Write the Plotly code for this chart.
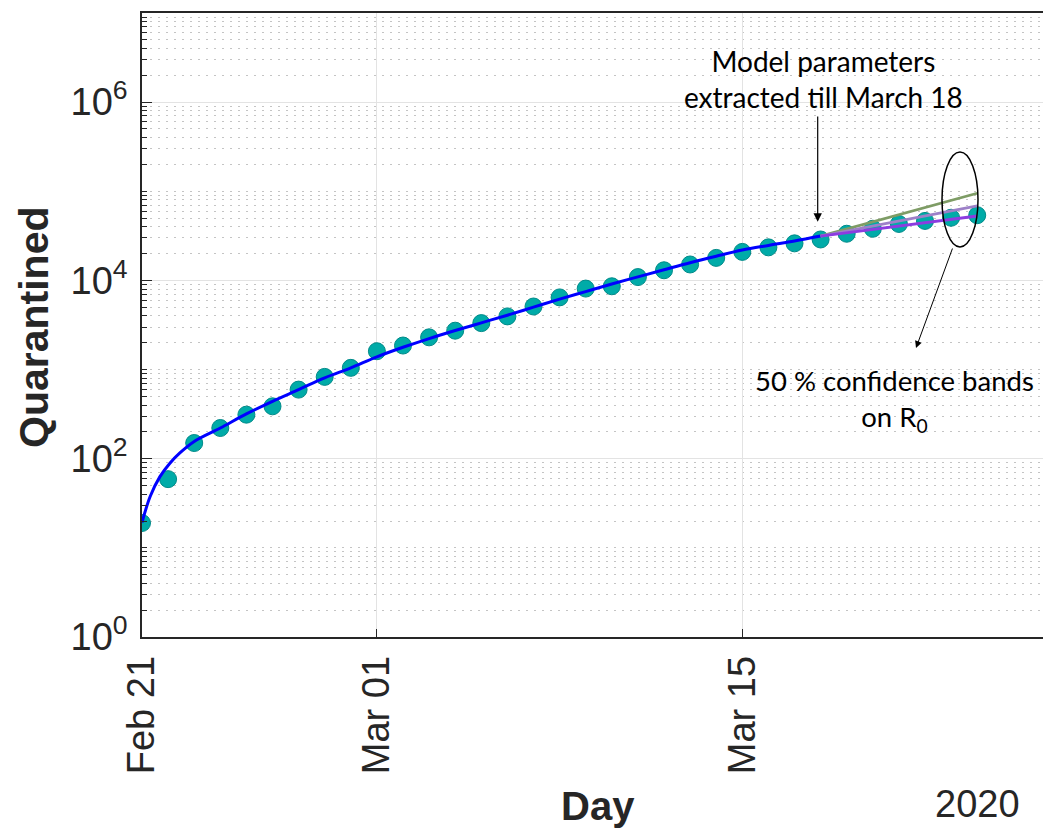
import plotly.graph_objects as go

# ---------------- data ----------------
obs_dates = ["2020-02-21", "2020-02-22", "2020-02-23", "2020-02-24", "2020-02-25",
             "2020-02-26", "2020-02-27", "2020-02-28", "2020-02-29", "2020-03-01",
             "2020-03-02", "2020-03-03", "2020-03-04", "2020-03-05", "2020-03-06",
             "2020-03-07", "2020-03-08", "2020-03-09", "2020-03-10", "2020-03-11",
             "2020-03-12", "2020-03-13", "2020-03-14", "2020-03-15", "2020-03-16",
             "2020-03-17", "2020-03-18", "2020-03-19", "2020-03-20", "2020-03-21",
             "2020-03-22", "2020-03-23", "2020-03-24"]
obs_values = [19, 59, 150, 221, 312, 387, 596, 828, 1045, 1606,
              1861, 2300, 2730, 3320, 3950, 5100, 6450, 8100, 8600, 10900,
              13000, 15100, 17900, 20900, 23500, 26060, 28800, 33400, 38000,
              43000, 46500, 50500, 53900]

fit_dates = ["2020-02-21 00:00", "2020-02-21 07:30", "2020-02-21 16:30", "2020-02-22 01:40",
             "2020-02-22 10:50", "2020-02-23", "2020-02-24", "2020-02-25", "2020-02-26",
             "2020-02-27", "2020-02-28", "2020-02-29", "2020-03-01", "2020-03-02",
             "2020-03-03", "2020-03-04", "2020-03-05", "2020-03-06", "2020-03-07",
             "2020-03-08", "2020-03-09", "2020-03-10", "2020-03-11", "2020-03-12",
             "2020-03-13", "2020-03-14", "2020-03-15", "2020-03-16", "2020-03-17",
             "2020-03-18"]
fit_values = [19.2, 37.7, 63, 89, 116, 156, 221, 318, 441, 596, 807, 1045, 1390, 1778,
              2228, 2742, 3342, 4074, 5012, 6166, 7499, 9120, 10965, 13183, 15812,
              18707, 21928, 24717, 27669, 31477]

band_dates = ["2020-03-18", "2020-03-24"]
band_high = [31477, 95000]
band_mid = [31477, 68400]
band_low = [31477, 52800]

x_tick_vals = ["2020-02-21", "2020-03-01", "2020-03-15"]
x_tick_text = ["Feb 21", "Mar 01", "Mar 15"]
y_tick_vals = [1, 100, 10000, 1000000]
y_tick_text = ["10<sup>0</sup>", "10<sup>2</sup>", "10<sup>4</sup>", "10<sup>6</sup>"]
y_minor_vals = [m * 10 ** k for k in range(0, 7) for m in range(2, 10)] + [10, 1000, 100000, 10000000]

# ---------------- figure ----------------
W, H = 1043, 832
L, R, T, B = 142, 0, 13, 195
PW, PH = W - L - R, H - T - B

def px(x):
    return (x - L) / PW

def py(y):
    return (H - B - y) / PH

tick_font = dict(family="Liberation Sans, Arial, sans-serif", size=38, color="#262626")
note_font = dict(family="Lato, Carlito, sans-serif", size=28, color="#000000")

fig = go.Figure()

fig.add_trace(go.Scatter(
    x=obs_dates, y=obs_values, mode="markers",
    marker=dict(size=17, color="#00ABA8", line=dict(color="#008a88", width=1)),
    showlegend=False))

fig.add_trace(go.Scatter(
    x=fit_dates, y=fit_values, mode="lines",
    line=dict(color="#0000FF", width=3, shape="spline"), showlegend=False))

fig.add_trace(go.Scatter(x=band_dates, y=band_high, mode="lines",
                         line=dict(color="#7e9c65", width=2.8), showlegend=False))
fig.add_trace(go.Scatter(x=band_dates, y=band_mid, mode="lines",
                         line=dict(color="#9d80c8", width=2.8), showlegend=False))
fig.add_trace(go.Scatter(x=band_dates, y=band_low, mode="lines",
                         line=dict(color="#8c3ce0", width=2.8), showlegend=False))

fig.update_layout(
    width=W, height=H,
    margin=dict(l=L, r=R, t=T, b=B),
    paper_bgcolor="white", plot_bgcolor="white",
    showlegend=False,
)

fig.update_xaxes(
    type="date", range=["2020-02-21", "2020-03-26 12:30"],
    tickmode="array", tickvals=x_tick_vals, ticktext=x_tick_text,
    tickangle=-90, tickfont=tick_font,
    ticks="inside", ticklen=8, tickcolor="#262626",
    showgrid=True, gridcolor="#e3e3e3", gridwidth=1,
    showline=True, linecolor="#262626", linewidth=1.5, mirror=True,
    zeroline=False, ticklabelstandoff=2,
)

fig.update_yaxes(
    type="log", range=[0, 7],
    tickmode="array", tickvals=y_tick_vals, ticktext=y_tick_text,
    tickfont=tick_font,
    ticks="inside", ticklen=10, tickcolor="#262626",
    showgrid=True, gridcolor="#e3e3e3", gridwidth=1,
    showline=True, linecolor="#262626", linewidth=1.5, mirror=False,
    zeroline=False, ticklabelstandoff=5,
    minor=dict(tickmode="array", tickvals=y_minor_vals, ticks="inside", ticklen=5,
               tickcolor="#262626", showgrid=True, gridcolor="#c4c4c4",
               griddash="2px,6px", gridwidth=1),
)

# axis titles as annotations
fig.add_annotation(xref="paper", yref="paper", x=px(598), y=py(806),
                   text="<b>Day</b>", showarrow=False,
                   font=dict(family="Liberation Sans, Arial, sans-serif", size=40, color="#262626"),
                   xanchor="center", yanchor="middle")
fig.add_annotation(xref="paper", yref="paper", x=px(977), y=py(804),
                   text="2020", showarrow=False,
                   font=dict(family="Liberation Sans, Arial, sans-serif", size=38, color="#262626"),
                   xanchor="center", yanchor="middle")
fig.add_annotation(xref="paper", yref="paper", x=px(34), y=py(328),
                   text="<b>Quarantined</b>", showarrow=False, textangle=-90,
                   font=dict(family="Liberation Sans, Arial, sans-serif", size=41, color="#262626"),
                   xanchor="center", yanchor="middle")

# notes
fig.add_annotation(xref="paper", yref="paper", x=px(823), y=py(79),
                   text="Model parameters<br>extracted till March 18", showarrow=False,
                   font=note_font, xanchor="center", yanchor="middle", align="center")
fig.add_annotation(xref="paper", yref="paper", x=px(894), y=py(400),
                   text="50 % confidence bands<br>on R<sub>0</sub>", showarrow=False,
                   font=dict(family="Lato, Carlito, sans-serif", size=27.5, color="#000000"),
                   xanchor="center", yanchor="middle", align="center")

# arrows
fig.add_annotation(xref="paper", yref="paper", x=px(817.7), y=py(221.7),
                   ax=0, ay=-106.7, text="", showarrow=True,
                   arrowhead=2, arrowsize=1.4, arrowwidth=1.2, arrowcolor="#000000")
fig.add_annotation(xref="paper", yref="paper", x=px(916), y=py(348),
                   ax=37, ay=-101, text="", showarrow=True,
                   arrowhead=2, arrowsize=1.4, arrowwidth=1.0, arrowcolor="#000000")

# ellipse
fig.add_shape(type="circle", xref="paper", yref="paper",
              x0=px(942), x1=px(978), y0=py(247), y1=py(152),
              line=dict(color="#000000", width=1.5), fillcolor="rgba(0,0,0,0)")

fig.write_html("out.html")
